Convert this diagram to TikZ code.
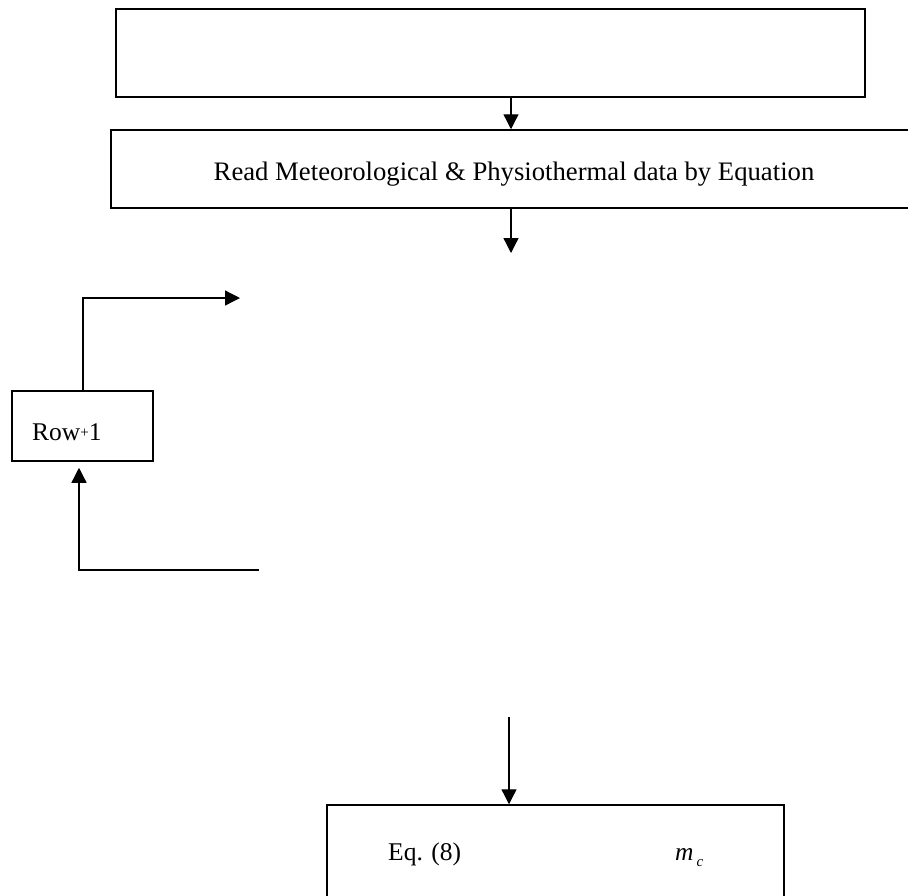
\documentclass[tikz,border=0pt]{standalone}
\usepackage{fontspec}
\setmainfont{Liberation Serif}
\usetikzlibrary{arrows.meta}
\begin{document}
\begin{tikzpicture}[x=1pt,y=-1pt,
  box/.style={draw,line width=1.5pt,rectangle,inner sep=0pt},
  txt/.style={inner sep=0pt,font=\fontsize{25.5}{30}\selectfont},
  flow/.style={line width=1.3pt,-{Triangle[length=15pt,width=15pt]}}]
\useasboundingbox (0,0) rectangle (908,895);
\clip (0,0) rectangle (908,895);
% boxes
\node[box,minimum width=749pt,minimum height=88pt] (top) at (490.5,53) {};
\node[box,minimum width=829pt,minimum height=78pt] (read) at (525.5,169) {};
\node[box,minimum width=141pt,minimum height=70pt] (row) at (82.5,426) {};
\node[box,minimum width=457pt,minimum height=170pt] (eq) at (555.5,890) {};
% texts
\node[txt,anchor=base,font=\fontsize{26.7}{31}\selectfont] (readtxt) at (514,180) {Read Meteorological \& Physiothermal data by Equation};
\node[txt,anchor=base west] (rowtxt) at (32,440) {Row\raisebox{2.5pt}{\fontsize{15}{15}\selectfont +}1};
\node[txt,anchor=base west] (eqtxt) at (388,860) {Eq. (8)};
\node[txt,anchor=base west] (mctxt) at (675,860) {\textit{m}\kern3pt\raisebox{-6pt}{\fontsize{15}{15}\selectfont\textit{c}}};
% guides and free ends
\coordinate (g1) at (511,0);
\coordinate (g2) at (83,0);
\coordinate (g3) at (79,0);
\coordinate (g4) at (509,0);
\coordinate (e1) at (511,253);
\coordinate (e2) at (240,298);
\coordinate (e3) at (259,570);
\coordinate (e4) at (509,717);
% connectors
\draw[flow] (top.south -| g1) -- (read.north -| g1);
\draw[flow] (read.south -| g1) -- (e1);
\draw[flow] (row.north -| g2) |- (e2);
\draw[flow,shorten >=6pt] (e3) -| (row.south -| g3);
\draw[flow] (e4) -- (eq.north -| g4);
\end{tikzpicture}
\end{document}
